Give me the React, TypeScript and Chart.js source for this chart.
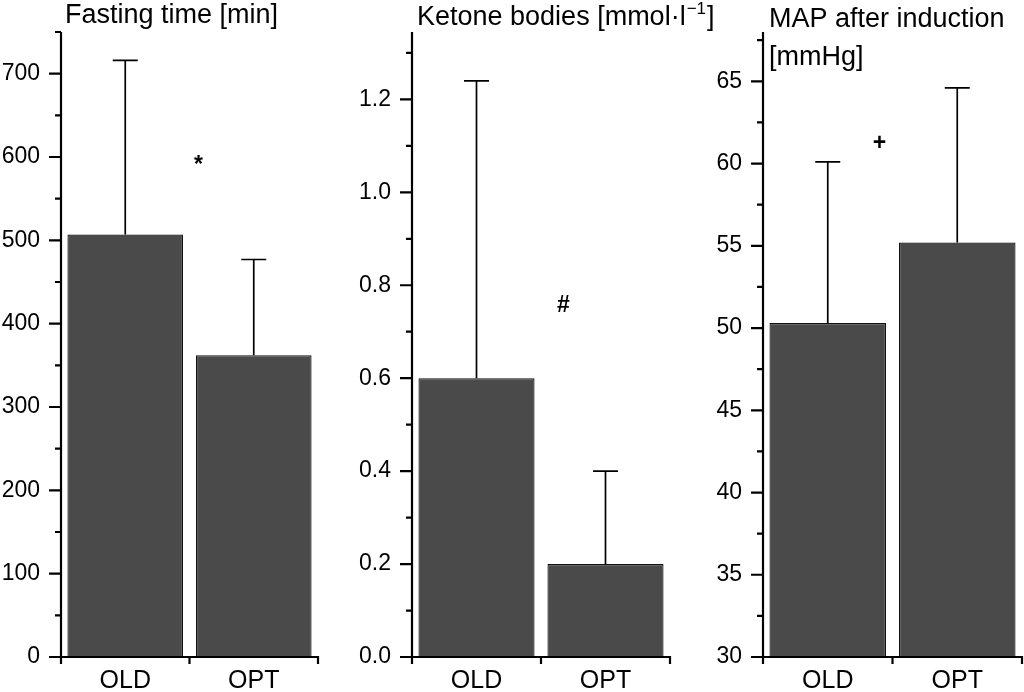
import React, { useEffect, useRef } from 'react';
import { Chart, registerables } from 'chart.js';

Chart.register(...registerables);

const FONT = "'Liberation Sans', Arial, Helvetica, sans-serif";

const categories = ['OLD', 'OPT'];

// Panel 1: fasting time [min]
const fastingMeans = [507, 362];
const fastingSD = [209, 115];
const fastingMajorTicks = [0, 100, 200, 300, 400, 500, 600, 700];
const fastingMinorTicks = [50, 150, 250, 350, 450, 550, 650, 750];
const fastingRange = [0, 750];
const fastingMarker = { label: '*', xIndex: 0.57, value: 590 };

// Panel 2: ketone bodies [mmol/l]
const ketoneMeans = [0.6, 0.2];
const ketoneSD = [0.64, 0.2];
const ketoneMajorTicks = [0, 0.2, 0.4, 0.6, 0.8, 1.0, 1.2];
const ketoneMinorTicks = [0.1, 0.3, 0.5, 0.7, 0.9, 1.1, 1.3];
const ketoneRange = [0, 1.345];
const ketoneMarker = { label: '#', xIndex: 0.674, value: 0.757 };

// Panel 3: MAP after induction [mmHg]
const mapMeans = [50.3, 55.2];
const mapSD = [9.8, 9.4];
const mapMajorTicks = [30, 35, 40, 45, 50, 55, 60, 65];
const mapMinorTicks = [32.5, 37.5, 42.5, 47.5, 52.5, 57.5, 62.5, 67.5];
const mapRange = [30, 68];
const mapMarker = { label: '+', xIndex: 0.4, value: 61.2 };

type Seg = { text: string; sup?: boolean };

interface PanelProps {
  canvasLeft: number;
  canvasWidth: number;
  padLeft: number;
  padRight: number;
  means: number[];
  sd: number[];
  range: number[];
  major: number[];
  minor: number[];
  decimals: number;
  marker: { label: string; xIndex: number; value: number };
  titleLines: Seg[][];
  titleBaselines: number[];
  titleOffset: number;
}

const HEIGHT = 692;
const TOP = 32;
const XAXIS_H = 35;

function Panel(p: PanelProps) {
  const ref = useRef<HTMLCanvasElement | null>(null);

  useEffect(() => {
    const canvas = ref.current;
    if (!canvas) return;

    const custom = {
      id: 'customDecor',
      afterDatasetsDraw(chart: any) {
        const { ctx, scales } = chart;
        const x = scales.x;
        const y = scales.y;
        ctx.save();
        ctx.strokeStyle = '#000';
        ctx.lineWidth = 1.7;
        p.means.forEach((m, i) => {
          const px = x.getPixelForValue(i);
          const y0 = y.getPixelForValue(m);
          const y1 = y.getPixelForValue(m + p.sd[i]);
          ctx.beginPath();
          ctx.moveTo(px, y0);
          ctx.lineTo(px, y1);
          ctx.moveTo(px - 12.5, y1);
          ctx.lineTo(px + 12.5, y1);
          ctx.stroke();
        });
        // significance marker
        ctx.fillStyle = '#000';
        ctx.font = `bold 23px ${FONT}`;
        ctx.textAlign = 'center';
        ctx.textBaseline = 'middle';
        const mx = x.getPixelForValue(p.marker.xIndex);
        const my = y.getPixelForValue(p.marker.value);
        ctx.fillText(p.marker.label, mx, my);
        ctx.restore();
      },
      afterDraw(chart: any) {
        const { ctx, chartArea, scales } = chart;
        const { left, right, top, bottom } = chartArea;
        const x = scales.x;
        const y = scales.y;
        ctx.save();
        ctx.strokeStyle = '#000';
        ctx.lineWidth = 2.2;
        ctx.lineCap = 'butt';
        ctx.beginPath();
        // y axis line
        ctx.moveTo(left, top);
        ctx.lineTo(left, bottom);
        // x axis line
        ctx.moveTo(left - 1, bottom);
        ctx.lineTo(right + 1, bottom);
        // y major ticks
        p.major.forEach((v) => {
          const py = y.getPixelForValue(v);
          ctx.moveTo(left - 12, py);
          ctx.lineTo(left, py);
        });
        // y minor ticks
        p.minor.forEach((v) => {
          const py = y.getPixelForValue(v);
          ctx.moveTo(left - 6, py);
          ctx.lineTo(left, py);
        });
        // x ticks at category boundaries
        const p0 = x.getPixelForValue(0);
        const p1 = x.getPixelForValue(1);
        const half = (p1 - p0) / 2;
        [p0 - half, p0 + half, p1 + half].forEach((px) => {
          ctx.moveTo(px, bottom - 1);
          ctx.lineTo(px, bottom + 7);
        });
        ctx.stroke();

        // title
        ctx.fillStyle = '#000';
        ctx.textAlign = 'left';
        ctx.textBaseline = 'alphabetic';
        p.titleLines.forEach((line, li) => {
          let cx = left + p.titleOffset;
          const base = p.titleBaselines[li];
          line.forEach((seg) => {
            if (seg.sup) {
              ctx.font = `17px ${FONT}`;
              ctx.fillText(seg.text, cx + 1, base - 11);
              cx += ctx.measureText(seg.text).width + 2;
            } else {
              ctx.font = `27px ${FONT}`;
              ctx.fillText(seg.text, cx, base);
              cx += ctx.measureText(seg.text).width;
            }
          });
        });
        ctx.restore();
      },
    };

    const chart = new Chart(canvas, {
      type: 'bar',
      data: {
        labels: categories,
        datasets: [
          {
            data: p.means,
            backgroundColor: '#4a4a4a',
            borderColor: '#111',
            borderWidth: 1.2,
            barPercentage: 0.9,
            categoryPercentage: 1,
            base: p.range[0],
          } as any,
        ],
      },
      options: {
        responsive: false,
        animation: false,
        devicePixelRatio: 1,
        layout: { padding: { left: 0, right: p.padRight, top: TOP, bottom: 0 } },
        plugins: {
          legend: { display: false },
          tooltip: { enabled: false },
          title: { display: false },
        },
        scales: {
          x: {
            type: 'category',
            offset: true,
            grid: { display: false, drawTicks: true, tickLength: 6 },
            border: { display: false },
            ticks: { color: '#000', font: { family: FONT, size: 25 }, padding: 3, maxRotation: 0 },
            afterFit: (s: any) => {
              s.height = XAXIS_H;
            },
          },
          y: {
            type: 'linear',
            min: p.range[0],
            max: p.range[1],
            grid: { display: false, drawTicks: true, tickLength: 12 },
            border: { display: false },
            afterBuildTicks: (s: any) => {
              s.ticks = p.major.map((v) => ({ value: v }));
            },
            ticks: {
              color: '#000',
              font: { family: FONT, size: 23 },
              padding: 9,
              callback: (v: any) => Number(v).toFixed(p.decimals),
            },
            afterFit: (s: any) => {
              s.width = p.padLeft;
            },
          },
        },
      } as any,
      plugins: [custom],
    });
    return () => chart.destroy();
  }, []);

  return (
    <canvas
      ref={ref}
      width={p.canvasWidth}
      height={HEIGHT}
      style={{ position: 'absolute', left: p.canvasLeft, top: 0, width: p.canvasWidth, height: HEIGHT }}
    />
  );
}

export default function App() {
  return (
    <div style={{ position: 'fixed', left: 0, top: 0, width: 1024, height: 692, background: '#fff', overflow: 'hidden' }}>
      <Panel
        canvasLeft={0}
        canvasWidth={345}
        padLeft={61}
        padRight={27}
        means={fastingMeans}
        sd={fastingSD}
        range={fastingRange}
        major={fastingMajorTicks}
        minor={fastingMinorTicks}
        decimals={0}
        marker={fastingMarker}
        titleLines={[[{ text: 'Fasting time [min]' }]]}
        titleBaselines={[23]}
        titleOffset={4}
      />
      <Panel
        canvasLeft={340}
        canvasWidth={380}
        padLeft={72}
        padRight={50}
        means={ketoneMeans}
        sd={ketoneSD}
        range={ketoneRange}
        major={ketoneMajorTicks}
        minor={ketoneMinorTicks}
        decimals={1}
        marker={ketoneMarker}
        titleLines={[[{ text: 'Ketone bodies [mmol·l' }, { text: '−1', sup: true }, { text: ']' }]]}
        titleBaselines={[25]}
        titleOffset={5}
      />
      <Panel
        canvasLeft={690}
        canvasWidth={334}
        padLeft={73}
        padRight={2}
        means={mapMeans}
        sd={mapSD}
        range={mapRange}
        major={mapMajorTicks}
        minor={mapMinorTicks}
        decimals={0}
        marker={mapMarker}
        titleLines={[[{ text: 'MAP after induction' }], [{ text: '[mmHg]' }]]}
        titleBaselines={[27, 65]}
        titleOffset={6}
      />
    </div>
  );
}
